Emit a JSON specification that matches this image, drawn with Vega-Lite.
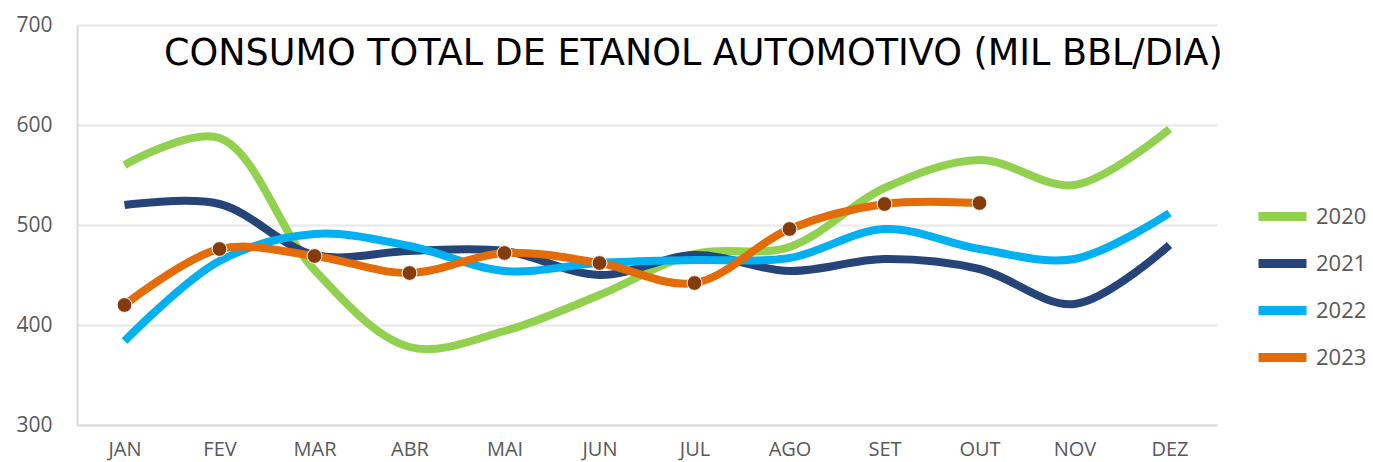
{
  "$schema": "https://vega.github.io/schema/vega-lite/v6.json",
  "autosize": {"type": "none"},
  "padding": {"left": 77, "top": 25, "right": 156, "bottom": 37},
  "width": 1140,
  "height": 400,
  "background": "white",
  "config": {"view": {"stroke": null}, "font": "Open Sans"},
  "title": {
    "text": "CONSUMO TOTAL DE ETANOL AUTOMOTIVO (MIL BBL/DIA)",
    "font": "DejaVu Sans",
    "fontSize": 36.5,
    "fontWeight": "normal",
    "color": "#000000",
    "anchor": "start",
    "frame": "group",
    "orient": "top",
    "offset": 0,
    "baseline": "alphabetic",
    "dx": 87,
    "dy": 87
  },
  "data": {
    "values": [
      {"mes": "JAN", "ano": "2020", "v": 560},
      {"mes": "FEV", "ano": "2020", "v": 587},
      {"mes": "MAR", "ano": "2020", "v": 455},
      {"mes": "ABR", "ano": "2020", "v": 378},
      {"mes": "MAI", "ano": "2020", "v": 394},
      {"mes": "JUN", "ano": "2020", "v": 430},
      {"mes": "JUL", "ano": "2020", "v": 471},
      {"mes": "AGO", "ano": "2020", "v": 478},
      {"mes": "SET", "ano": "2020", "v": 537},
      {"mes": "OUT", "ano": "2020", "v": 565},
      {"mes": "NOV", "ano": "2020", "v": 540},
      {"mes": "DEZ", "ano": "2020", "v": 596},
      {"mes": "JAN", "ano": "2021", "v": 520},
      {"mes": "FEV", "ano": "2021", "v": 521},
      {"mes": "MAR", "ano": "2021", "v": 470},
      {"mes": "ABR", "ano": "2021", "v": 474},
      {"mes": "MAI", "ano": "2021", "v": 474},
      {"mes": "JUN", "ano": "2021", "v": 450},
      {"mes": "JUL", "ano": "2021", "v": 470},
      {"mes": "AGO", "ano": "2021", "v": 454},
      {"mes": "SET", "ano": "2021", "v": 466},
      {"mes": "OUT", "ano": "2021", "v": 456},
      {"mes": "NOV", "ano": "2021", "v": 421},
      {"mes": "DEZ", "ano": "2021", "v": 480},
      {"mes": "JAN", "ano": "2022", "v": 384},
      {"mes": "FEV", "ano": "2022", "v": 464},
      {"mes": "MAR", "ano": "2022", "v": 491},
      {"mes": "ABR", "ano": "2022", "v": 479},
      {"mes": "MAI", "ano": "2022", "v": 454},
      {"mes": "JUN", "ano": "2022", "v": 462},
      {"mes": "JUL", "ano": "2022", "v": 465},
      {"mes": "AGO", "ano": "2022", "v": 467},
      {"mes": "SET", "ano": "2022", "v": 496},
      {"mes": "OUT", "ano": "2022", "v": 476},
      {"mes": "NOV", "ano": "2022", "v": 466},
      {"mes": "DEZ", "ano": "2022", "v": 512},
      {"mes": "JAN", "ano": "2023", "v": 420},
      {"mes": "FEV", "ano": "2023", "v": 476},
      {"mes": "MAR", "ano": "2023", "v": 469},
      {"mes": "ABR", "ano": "2023", "v": 452},
      {"mes": "MAI", "ano": "2023", "v": 472},
      {"mes": "JUN", "ano": "2023", "v": 462},
      {"mes": "JUL", "ano": "2023", "v": 442},
      {"mes": "AGO", "ano": "2023", "v": 496},
      {"mes": "SET", "ano": "2023", "v": 521},
      {"mes": "OUT", "ano": "2023", "v": 522}
    ]
  },
  "encoding": {
    "x": {
      "field": "mes",
      "type": "ordinal",
      "sort": ["JAN", "FEV", "MAR", "ABR", "MAI", "JUN", "JUL", "AGO", "SET", "OUT", "NOV", "DEZ"],
      "scale": {"type": "point", "padding": 0.5},
      "axis": {
        "title": null,
        "labelAngle": 0,
        "ticks": false,
        "grid": false,
        "domain": true,
        "domainColor": "#D9D9D9",
        "domainWidth": 2,
        "labelFontSize": 20,
        "labelColor": "#595959",
        "labelPadding": 14
      }
    },
    "y": {
      "field": "v",
      "type": "quantitative",
      "scale": {"domain": [300, 700], "nice": false, "zero": false},
      "axis": {
        "title": null,
        "values": [300, 400, 500, 600, 700],
        "grid": true,
        "gridColor": "#E8E8E8",
        "gridWidth": 2,
        "domain": true,
        "domainColor": "#D9D9D9",
        "domainWidth": 2,
        "ticks": false,
        "labelPadding": 25,
        "labelFontSize": 21,
        "labelColor": "#595959"
      }
    }
  },
  "layer": [
    {
      "mark": {"type": "line", "interpolate": "catmull-rom", "strokeWidth": 8, "strokeCap": "butt"},
      "encoding": {
        "color": {
          "field": "ano",
          "type": "nominal",
          "scale": {"domain": ["2020", "2021", "2022", "2023"], "range": ["#92D050", "#264478", "#00B0F0", "#E36C09"]},
          "legend": {
            "title": null,
            "orient": "none",
            "legendX": 1177,
            "legendY": 163,
            "symbolType": "stroke",
            "symbolSize": 2304,
            "symbolStrokeWidth": 9,
            "labelFontSize": 22,
            "labelColor": "#595959",
            "labelOffset": 5,
            "rowPadding": -5,
            "padding": 0
          }
        }
      }
    },
    {
      "transform": [{"filter": "datum.ano == '2023'"}],
      "mark": {"type": "point", "filled": true, "size": 220, "fill": "#843C0C", "stroke": "#FFFFFF", "strokeWidth": 1, "opacity": 1}
    }
  ]
}
